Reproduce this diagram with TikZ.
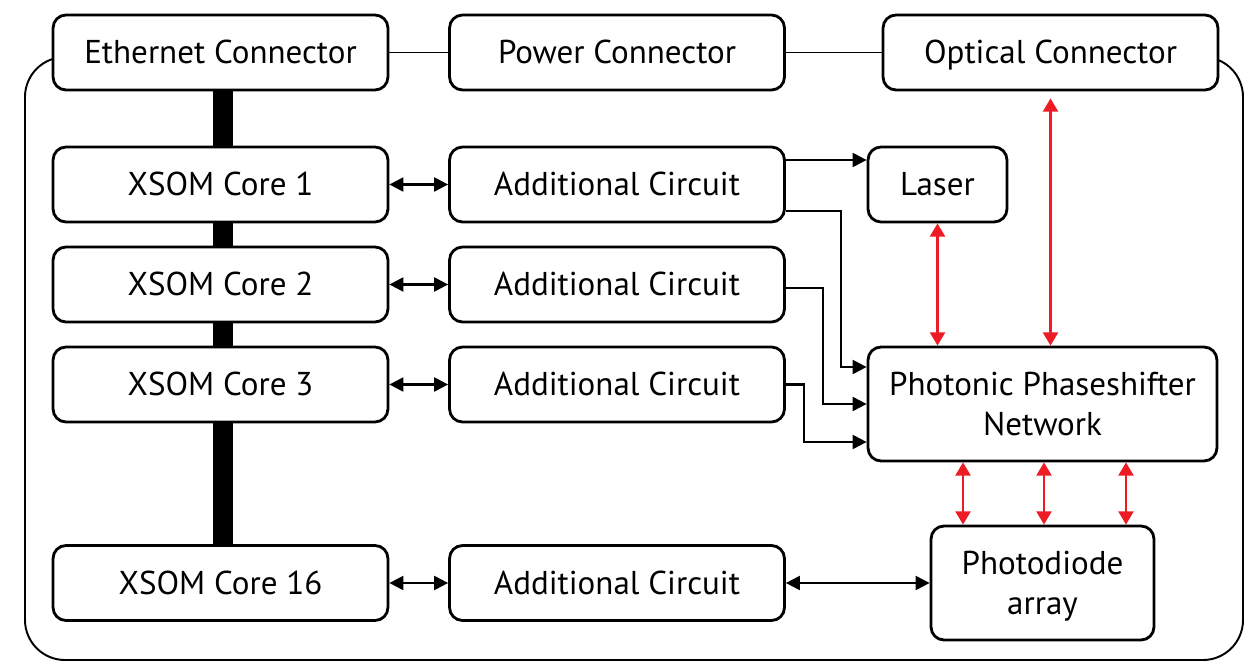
\documentclass[tikz,border=0pt]{standalone}
\usepackage{fontspec}
\setmainfont{PT Sans}
\usetikzlibrary{arrows.meta}
\definecolor{optred}{RGB}{237,28,36}

\begin{document}
\begin{tikzpicture}[x=0.02cm, y=-0.02cm,
        block/.style={draw, line width=1.6pt, rounded corners=0.26cm, fill=white,
            minimum width=6.7cm, minimum height=1.5cm, align=center,
            font=\fontsize{18.8}{22.5}\selectfont},
        oneline/.style={text height=13pt, text depth=0pt},
        link/.style={line width=1.2pt, {Triangle[length=8pt,width=8pt]}-{Triangle[length=8pt,width=8pt]}},
        feed/.style={line width=1.2pt, -{Triangle[length=8pt,width=8pt]}},
        optic/.style={optred, line width=1.3pt, {Triangle[length=7.5pt,width=8.5pt]}-{Triangle[length=7.5pt,width=8.5pt]}}]
        % ==== BOUNDING BOX ====
        \useasboundingbox (0,0) rectangle (1245,662);

        % ==== OUTER FRAME ====
        \draw[line width=1.1pt, rounded corners=0.8cm] (70,57) -| (25,660) -| (1243,57) -- (1180,57);

        % ==== CONNECTORS ====
        \node[block, oneline] (eth) at (220.5,52.5) {Ethernet Connector};
        \node[block, oneline] (pow) at (617,52.5) {Power Connector};
        \node[block, oneline] (opt) at (1050.5,52.5) {Optical Connector};
        \draw[line width=1.1pt] (eth) -- (pow);
        \draw[line width=1.1pt] (pow) -- (opt);

        % ==== XSOM CORES ====
        \node[block, oneline] (core1) at (220.5,184.5) {XSOM Core 1};
        \node[block, oneline] (core2) at (220.5,284.5) {XSOM Core 2};
        \node[block, oneline] (core3) at (220.5,384.5) {XSOM Core 3};
        \node[block, oneline] (core16) at (220.5,583) {XSOM Core 16};

        % ==== BUS ====
        \foreach \a/\b in {eth/core1, core1/core2, core2/core3, core3/core16}
            \draw[line width=0.4cm] ([xshift=0.05cm]\a.south) -- ([xshift=0.05cm]\b.north);

        % ==== ADDITIONAL CIRCUITS ====
        \node[block, oneline] (add1) at (617,184.5) {Additional Circuit};
        \node[block, oneline] (add2) at (617,284.5) {Additional Circuit};
        \node[block, oneline] (add3) at (617,384.5) {Additional Circuit};
        \node[block, oneline] (add16) at (617,583) {Additional Circuit};
        \foreach \n in {1,2,3,16}
            \draw[link] (core\n) -- (add\n);

        % ==== OPTICS ====
        \node[block, oneline, minimum width=2.78cm] (laser) at (937.5,184.5) {Laser};
        \node[block, minimum width=6.98cm, minimum height=2.28cm] (ppn) at (1042.5,404) {Photonic Phaseshifter\\Network};
        \node[block, text depth=0pt, minimum width=4.46cm, minimum height=2.28cm] (pd) at (1042.5,583) {Photodiode\\array};

        % ==== CIRCUIT LINES ====
        \draw[feed] ([yshift=0.49cm]add1.east) -- ([yshift=0.49cm]laser.west);
        \draw[feed] ([yshift=-0.53cm]add1.east) -- ++(55,0) |- ([yshift=0.74cm]ppn.west);
        \draw[feed] ([yshift=-0.07cm]add2.east) -- ++(37,0) |- (ppn.west);
        \draw[feed] (add3.east) -- ++(18,0) |- ([yshift=-0.76cm]ppn.west);
        \draw[link] (add16) -- (pd);

        % ==== OPTICAL LINES ====
        \draw[optic] (laser.south) -- (laser.south |- ppn.north);
        \draw[optic, shorten <=0.14cm] (opt.south) -- (opt.south |- ppn.north);
        \foreach \dx in {-1.59,0.03,1.67}
            \draw[optic] ([xshift=\dx cm]ppn.south) -- ([xshift=\dx cm]ppn.south |- pd.north);
\end{tikzpicture}
\end{document}
